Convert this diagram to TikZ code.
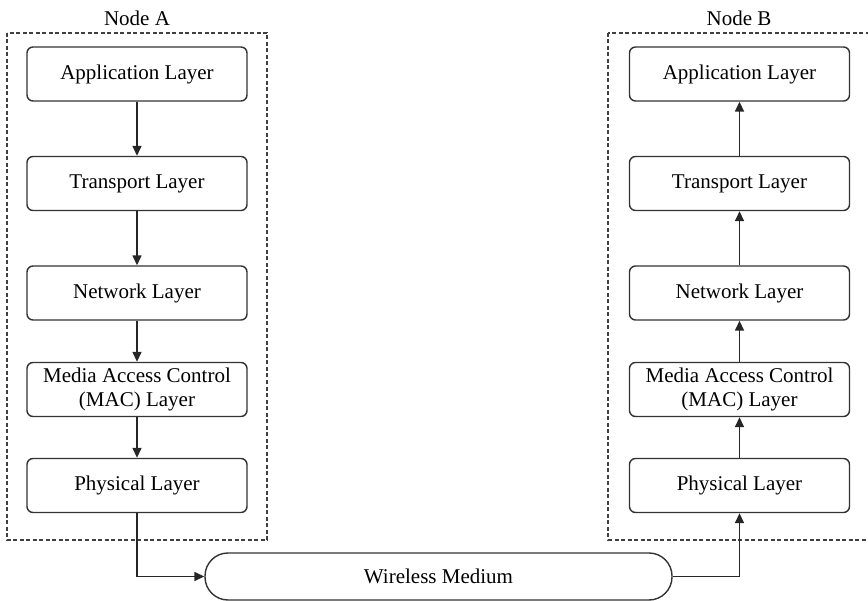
\documentclass[tikz,border=0pt]{standalone}
\usepackage{fontspec}
\setmainfont{Liberation Serif}
\usetikzlibrary{arrows.meta}
\begin{document}
\begin{tikzpicture}[x=1pt,y=-1pt,
  layer/.style={draw=black!80, line width=1.4pt, rounded corners=6pt, minimum width=220pt, minimum height=54pt, align=center, inner sep=0pt, font=\fontsize{21}{24}\selectfont},
  grp/.style={draw=black!75, line width=1.2pt, dash pattern=on 4pt off 2.5pt},
  lbl/.style={font=\fontsize{21}{24}\selectfont, inner sep=0pt},
  conn/.style={draw=black!85, line width=1.5pt, -{Triangle[length=10pt,width=9pt]}}
]
\useasboundingbox (0,0) rectangle (868,601);
% group boxes
\draw[grp] (7,33) rectangle (267,540);
\draw[grp] (608,33) rectangle (872,540);
\node[lbl] (la) at (137,18) {Node A};
\node[lbl] (lb) at (739,18) {Node B};
% Node A stack
\node[layer] (a1) at (137,74) {Application Layer};
\node[layer] (a2) at (137,183.5) {Transport Layer};
\node[layer] (a3) at (137,293) {Network Layer};
\node[layer] (a4) at (137,389.5) {Media Access Control\\(MAC) Layer};
\node[layer] (a5) at (137,485.5) {Physical Layer};
% Node B stack
\node[layer] (b1) at (739.5,74) {Application Layer};
\node[layer] (b2) at (739.5,183.5) {Transport Layer};
\node[layer] (b3) at (739.5,293) {Network Layer};
\node[layer] (b4) at (739.5,389.5) {Media Access Control\\(MAC) Layer};
\node[layer] (b5) at (739.5,485.5) {Physical Layer};
% wireless medium
\node[draw=black!80, line width=1.4pt, rounded corners=23pt, minimum width=467pt, minimum height=47pt, inner sep=0pt, font=\fontsize{21}{24}\selectfont] (wm) at (438.5,576.5) {Wireless Medium};
% arrows
\draw[conn] (a1) -- (a2);
\draw[conn] (a2) -- (a3);
\draw[conn] (a3) -- (a4);
\draw[conn] (a4) -- (a5);
\draw[conn] (a5.south) |- (wm.west);
\draw[conn] (wm.east) -| (b5.south);
\draw[conn] (b5) -- (b4);
\draw[conn] (b4) -- (b3);
\draw[conn] (b3) -- (b2);
\draw[conn] (b2) -- (b1);
\end{tikzpicture}
\end{document}
